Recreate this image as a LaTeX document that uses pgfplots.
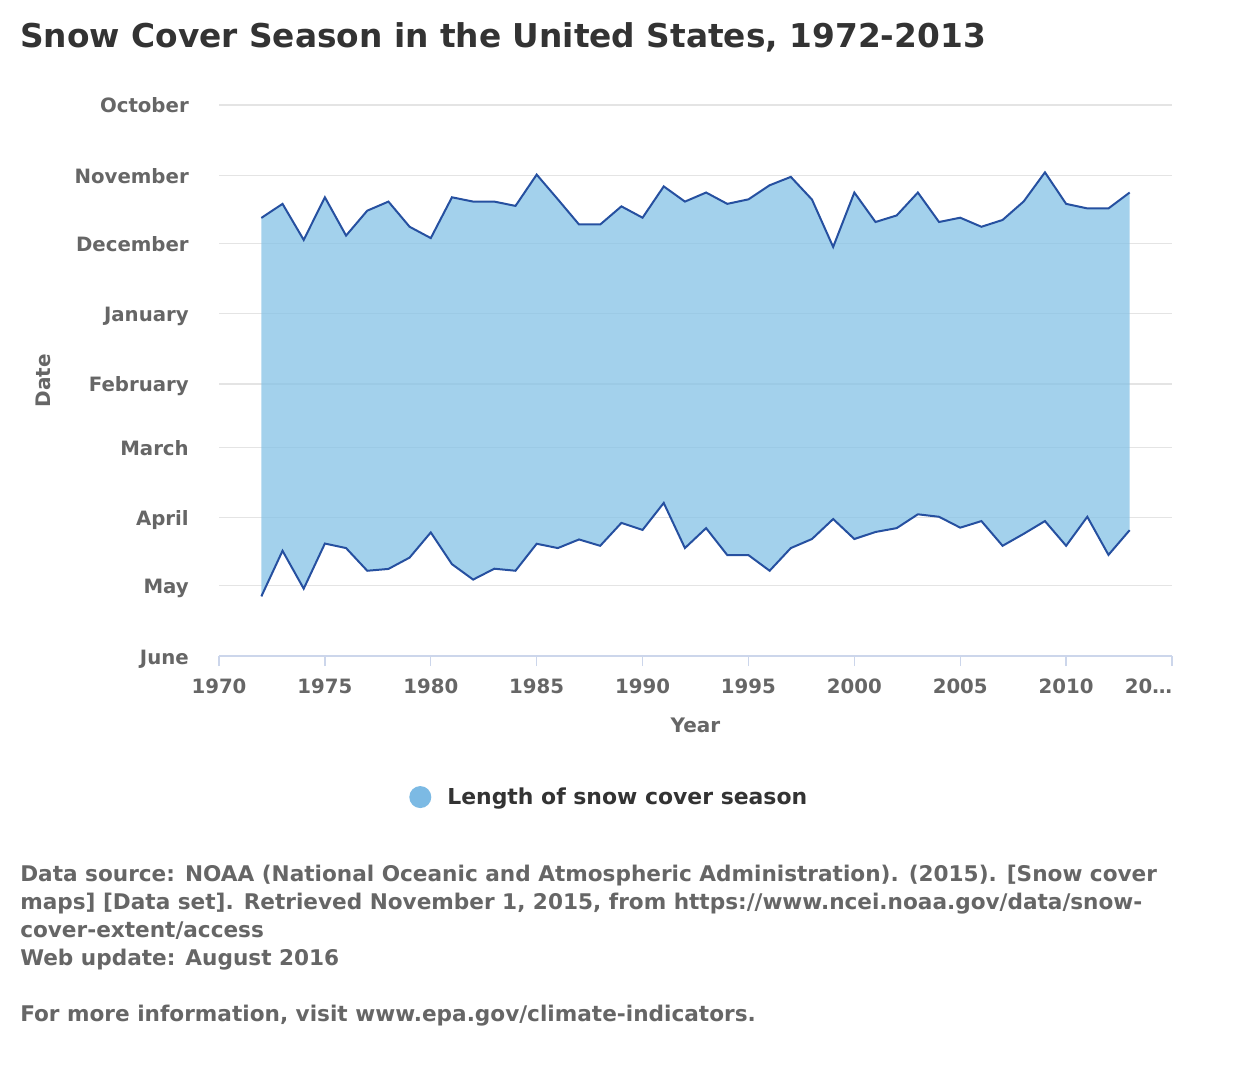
\documentclass[border=0pt]{standalone}
\usepackage{fontspec}
\setmainfont{DejaVu Sans}
\usepackage{pgfplots}
\usepackage{pgfplotstable}
\pgfplotsset{compat=1.18}
\usepgfplotslibrary{fillbetween}

\definecolor{areafill}{RGB}{132,194,230}
\definecolor{lineblue}{RGB}{38,80,160}
\definecolor{gridgray}{RGB}{228,228,228}
\definecolor{axisblue}{RGB}{204,214,235}
\definecolor{labelgray}{RGB}{102,102,102}
\definecolor{titlegray}{RGB}{51,51,51}
\definecolor{legendblue}{RGB}{124,186,228}

% Snow cover season: first and last day, counted in days from 1 October
\pgfplotstableread{
year  first  last
1972  49.8  216.7
1973  43.6  196.6
1974  59.5  213.3
1975  40.7  193.4
1976  57.6  195.4
1977  46.6  205.4
1978  42.6  204.6
1979  53.7  199.6
1980  58.7  188.5
1981  40.7  202.5
1982  42.6  209.3
1983  42.6  204.5
1984  44.5  205.4
1985  30.7  193.5
1986  41.6  195.4
1987  52.7  191.6
1988  52.7  194.4
1989  44.7  184.3
1990  49.7  187.4
1991  35.9  175.5
1992  42.6  195.4
1993  38.6  186.6
1994  43.6  198.5
1995  41.6  198.5
1996  35.4  205.4
1997  31.7  195.4
1998  41.7  191.4
1999  62.6  182.6
2000  38.6  191.4
2001  51.6  188.3
2002  48.7  186.6
2003  38.6  180.5
2004  51.6  181.6
2005  49.7  186.4
2006  53.7  183.5
2007  50.7  194.4
2008  42.5  189.1
2009  29.7  183.5
2010  43.6  194.4
2011  45.6  181.6
2012  45.6  198.4
2013  38.6  187.5
}\snowdata

\begin{document}
\begin{tikzpicture}
\begin{scope}[x=0.75pt,y=-0.75pt]
  \path[use as bounding box] (0,0) rectangle (1245,1085);
  \node[anchor=base west, inner sep=0pt, text=titlegray,
        font=\fontsize{24.6}{28}\selectfont\bfseries] at (20,47)
        {Snow Cover Season in the United States, 1972-2013};
  % base anchor of a multi-line node sits on the last line
  \node[anchor=base west, inner sep=0pt, text=labelgray, align=left,
        font=\fontsize{16.2}{21}\selectfont\bfseries] at (20,1021)
        {Data source: NOAA (National Oceanic and Atmospheric Administration). (2015). [Snow cover\\
         maps] [Data set]. Retrieved November 1, 2015, from https://www.ncei.noaa.gov/data/snow-\\
         cover-extent/access\\
         Web update: August 2016\\[21pt]
         For more information, visit www.epa.gov/climate-indicators.};
\end{scope}

% dates run downwards: the axis holds minus the day count
\begin{axis}[
  at={(164.25pt,-492pt)}, anchor=south west,
  scale only axis, width=714.75pt, height=413.25pt,
  xmin=1970, xmax=2015, ymin=-243, ymax=0,
  xtick={1970,1975,...,2015},
  xticklabels={1970,1975,1980,1985,1990,1995,2000,2005,2010,\llap{20…}},
  ytick={-243,-212,-182,-151,-123,-92,-61,-31,0},
  yticklabels={June,May,April,March,February,January,December,November,October},
  axis x line*=bottom, axis y line*=left,
  x axis line style={-, draw=axisblue, line width=1.5pt},
  y axis line style={draw=none},
  ymajorgrids, major grid style={draw=gridgray, line width=1pt},
  xtick align=outside, major tick length=7.5pt,
  xtick style={draw=axisblue, line width=1pt},
  ytick style={draw=none},
  tick label style={text=labelgray, font=\fontsize{14.8}{18}\selectfont\bfseries},
  yticklabel style={anchor=base east, inner sep=0pt, xshift=-22.5pt, yshift=-6pt},
  xticklabel style={anchor=base, inner sep=0pt, yshift=-20.25pt},
  xlabel={Year}, ylabel={Date},
  label style={text=labelgray, font=\fontsize{15}{18}\selectfont\bfseries},
  xlabel style={at={(axis description cs:0.5,-0.1252)}, anchor=center},
  ylabel style={at={(axis description cs:-0.1847,0.5)}, anchor=center},
  legend style={at={(axis description cs:0.1994,-0.256)}, anchor=west,
    draw=none, fill=none, inner sep=0pt, text=titlegray,
    font=\fontsize{16.45}{20}\selectfont\bfseries,
    /tikz/every odd column/.style={column sep=10pt}},
  clip=false,
]
  \addplot[draw=none, name path=first, forget plot] table[x=year, y expr=-\thisrow{first}] {\snowdata};
  \addplot[draw=none, name path=last, forget plot] table[x=year, y expr=-\thisrow{last}] {\snowdata};
  \addplot[fill=areafill, fill opacity=0.75, draw=none,
    legend image code/.code={\fill[legendblue, opacity=1] (0.3cm,0) circle (8.25pt);}]
    fill between[of=first and last];
  \addlegendentry{Length of snow cover season}
  \addplot[lineblue, line width=1.5pt, forget plot] table[x=year, y expr=-\thisrow{first}] {\snowdata};
  \addplot[lineblue, line width=1.5pt, forget plot] table[x=year, y expr=-\thisrow{last}] {\snowdata};
\end{axis}
\end{tikzpicture}
\end{document}
